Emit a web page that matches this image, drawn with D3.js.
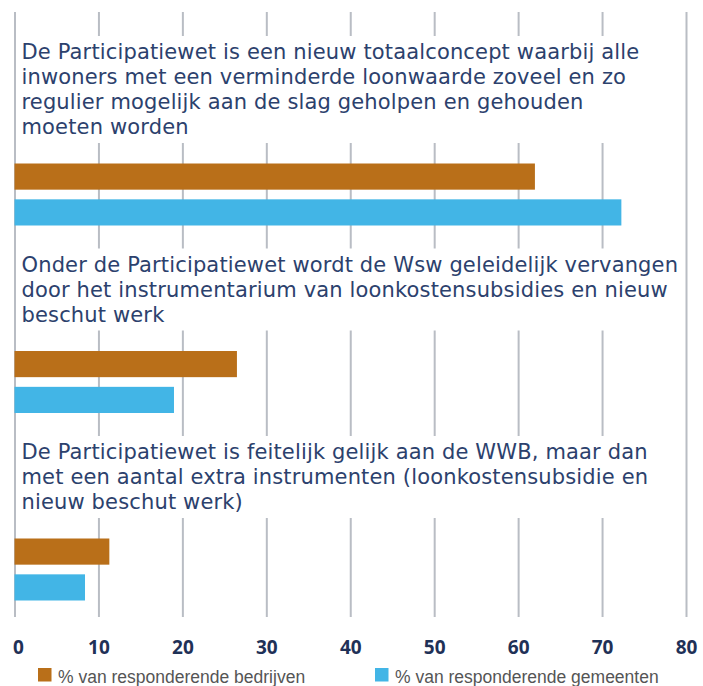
<!DOCTYPE html>
<html>
<head>
<meta charset="utf-8">
<script src="https://cdn.jsdelivr.net/npm/d3@7"></script>
<style>
  body { margin: 0; background: #fff; }
</style>
</head>
<body>
<div id="chart"></div>
<script>
// data
var categories = [
    ["De Participatiewet is een nieuw totaalconcept waarbij alle",
     "inwoners met een verminderde loonwaarde zoveel en zo",
     "regulier mogelijk aan de slag geholpen en gehouden",
     "moeten worden"],
    ["Onder de Participatiewet wordt de Wsw geleidelijk vervangen",
     "door het instrumentarium van loonkostensubsidies en nieuw",
     "beschut werk"],
    ["De Participatiewet is feitelijk gelijk aan de WWB, maar dan",
     "met een aantal extra instrumenten (loonkostensubsidie en",
     "nieuw beschut werk)"]
]
var seriesNames = ["% van responderende bedrijven", "% van responderende gemeenten"]
var bedrijven = [62, 26.5, 11.3]
var gemeenten = [72.3, 19, 8.4]
var tickValues = [0, 10, 20, 30, 40, 50, 60, 70, 80]

var colors = ["#b96f19", "#42b5e6"]

var width = 703,
    height = 686

var svg = d3.select("#chart")
    .append("svg")
        .attr("width", width)
        .attr("height", height)

var x = d3.scaleLinear()
    .domain([0, 80])
    .range([14.5, 686])

var gridTop = 12,
    gridBottom = 617

// one band per statement, two bars in the lower part of each band
var y0 = d3.scaleBand()
    .domain(d3.range(categories.length))
    .range([54.5, gridBottom])

var y1 = d3.scaleBand()
    .domain(seriesNames)
    .range([109, 171])
    .paddingInner(0.27)

// gridlines
svg.append("g")
    .attr("transform", "translate(0," + gridBottom + ")")
    .call(d3.axisBottom(x).tickValues(tickValues).tickSize(-(gridBottom - gridTop)).tickFormat(""))
    .call(function(g) { g.select(".domain").remove() })
    .selectAll("line")
        .attr("stroke", "#b9bdc4")
        .attr("stroke-width", 2)

// statement labels on a white box that hides the inner gridlines
var lineGap = 25
var labels = svg.selectAll("g.label")
    .data(categories)
    .enter()
    .append("g")
    .attr("class", "label")

function lastBase(d, i) { return y0(i) + y1(seriesNames[0]) - 29.5 }

labels.append("rect")
    .attr("x", x(0) + 1.5)
    .attr("width", x(80) - x(0) - 3)
    .attr("y", function(d, i) { return lastBase(d, i) - (d.length - 1) * lineGap - 23 })
    .attr("height", function(d) { return (d.length - 1) * lineGap + 32 })
    .attr("fill", "#fff")

labels.each(function(d, i) {
    var base = lastBase(d, i)
    d3.select(this).selectAll("text")
        .data(d)
        .enter()
        .append("text")
        .attr("x", x(0) + 7)
        .attr("y", function(t, j) { return base - (d.length - 1 - j) * lineGap })
        .attr("fill", "#2c416d")
        .style("font-family", "'DejaVu Sans', sans-serif")
        .style("font-size", "21px")
        .style("letter-spacing", "0.15px")
        .text(function(t) { return t })
})

// bars
var series = [bedrijven, gemeenten]
series.forEach(function(values, s) {
    svg.selectAll("rect.bar" + s)
        .data(values)
        .enter()
        .append("rect")
        .attr("class", "bar" + s)
        .attr("x", x(0))
        .attr("y", function(d, i) { return y0(i) + y1(seriesNames[s]) })
        .attr("width", function(d) { return x(d) - x(0) })
        .attr("height", y1.bandwidth())
        .attr("fill", colors[s])
})

// tick labels
var axis = svg.append("g")
    .attr("transform", "translate(0," + gridBottom + ")")
    .call(d3.axisBottom(x).tickValues(tickValues).tickSize(0).tickPadding(24))
axis.select(".domain").remove()
axis.selectAll("text")
    .attr("fill", "#1f3157")
    .style("font-family", "'Open Sans', sans-serif")
    .style("font-size", "19px")
    .style("font-weight", "bold")
axis.selectAll(".tick").filter(function(d) { return d == 0 })
    .select("text")
        .attr("text-anchor", "start")
        .attr("x", -2)

// legend
var legendX = [38, 375]
var legend = svg.selectAll("g.legend")
    .data(seriesNames)
    .enter()
    .append("g")
    .attr("class", "legend")
    .attr("transform", function(d, i) { return "translate(" + legendX[i] + ",668)" })

legend.append("rect")
    .attr("width", 13.5)
    .attr("height", 13.5)
    .attr("fill", function(d, i) { return colors[i] })

legend.append("text")
    .attr("x", 20)
    .attr("y", 14.5)
    .attr("fill", "#555")
    .style("font-family", "'Liberation Sans', Arial, sans-serif")
    .style("font-size", "17.5px")
    .text(function(d) { return d })
</script>
</body>
</html>
